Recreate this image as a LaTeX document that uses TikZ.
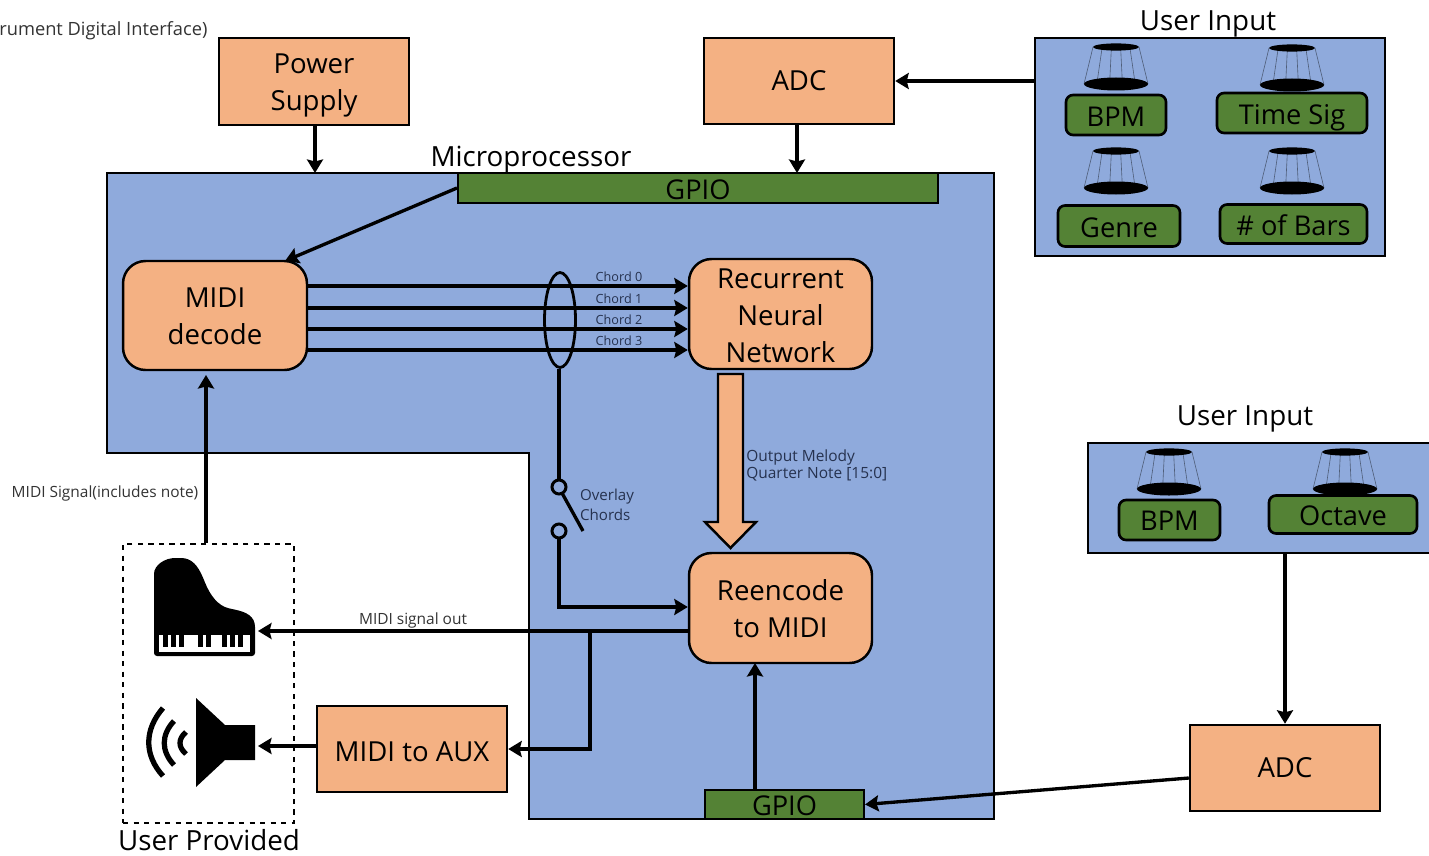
\documentclass[tikz,border=0pt]{standalone}
\usepackage{fontspec}
\setmainfont{Open Sans}
\usetikzlibrary{arrows.meta,shapes.geometric}
\definecolor{procblue}{HTML}{8FAADC}
\definecolor{boxorange}{HTML}{F4B183}
\definecolor{gpiogreen}{HTML}{548235}
\definecolor{smalltext}{HTML}{26324F}
\tikzset{
  block/.style={draw, line width=1.4pt, fill=boxorange, inner sep=0pt, align=center,
    font=\fontsize{15.7}{21}\selectfont},
  roundblock/.style={block, rounded corners=0.45cm},
  gpio/.style={draw, line width=1.2pt, fill=gpiogreen, inner sep=0pt, text height=0.44cm, text depth=0cm,
    font=\fontsize{15.5}{18}\selectfont},
  knoblabel/.style={draw, line width=1.5pt, fill=gpiogreen, rounded corners=0.14cm, inner sep=0pt,
    text height=0.48cm, text depth=0cm, font=\fontsize{15.5}{19}\selectfont},
  panel/.style={draw, line width=1.2pt, fill=procblue, inner sep=0pt},
  conn/.style={line width=1.9pt, -{Stealth[length=0.27cm,width=0.32cm,inset=0.04cm]}},
  wire/.style={line width=1.9pt},
  title/.style={font=\fontsize{15.8}{19}\selectfont},
  tiny/.style={font=\fontsize{7.2}{10}\selectfont, text=smalltext},
  note/.style={font=\fontsize{8.8}{10}\selectfont, text=smalltext, align=left},
  plain/.style={font=\fontsize{8.8}{10}\selectfont, text=black!80},
  knob/.pic={
    \foreach \d in {-1,-0.6,-0.2,0.2,0.6,1}
      \draw[line width=0.35pt, black!45!procblue] (23*\d,0) -- (32*\d,37);
    \fill (0,0) ellipse [x radius=23, y radius=3.6];
    \fill (0,37) ellipse [x radius=32, y radius=6.5];
  },
}

\begin{document}
\begin{tikzpicture}[x=0.02cm, y=-0.02cm]
  \useasboundingbox (0,0) rectangle (1429,855);

  % microprocessor area
  \draw[line width=1.2pt, fill=procblue] (107,173) -- (994,173) -- (994,819) -- (529,819)
    -- (529,453) -- (107,453) -- cycle;
  \coordinate (proctopa) at (315,173);
  \coordinate (proctopb) at (797,173);
  \node[title] (microlabel) at (531,160) {Microprocessor};
  \node[font=\fontsize{10.4}{12}\selectfont, anchor=west, inner sep=0pt, text=black!80] (cutlabel) at (-1,31) {rument Digital Interface)};

  \node[block, minimum width=3.8cm, minimum height=1.74cm] (power) at (314,81.5)
    {\rule{0pt}{0.56cm}Power\\Supply};
  \node[block, minimum width=3.8cm, minimum height=1.72cm] (adctop) at (799,81) {ADC};
  \node[gpio, minimum width=9.6cm, minimum height=0.6cm] (gpiotop) at (698,188) {GPIO};
  \node[roundblock, minimum width=3.68cm, minimum height=2.18cm] (decode) at (215,315.5) {\rule{0pt}{0.44cm}MIDI\\decode};
  \node[roundblock, minimum width=3.66cm, minimum height=2.2cm] (rnn) at (780.5,314) {\rule{0pt}{0.46cm}Recurrent\\Neural\\Network};
  \node[roundblock, minimum width=3.66cm, minimum height=2.2cm] (reencode) at (780.5,608) {\rule{0pt}{0.44cm}Reencode\\to MIDI};
  \node[block, minimum width=3.8cm, minimum height=1.72cm, text height=0.48cm, text depth=0cm] (aux) at (412,749) {MIDI to AUX};
  \node[block, minimum width=3.8cm, minimum height=1.72cm] (adcbot) at (1285,768) {ADC};
  \node[gpio, minimum width=3.18cm, minimum height=0.58cm] (gpiobot) at (784.5,804.5) {GPIO};

  % user inputs
  \node[title] (inputlabela) at (1208,24) {User Input};
  \node[panel, minimum width=7cm, minimum height=4.36cm] (inputa) at (1210,147) {};
  \node[title] (inputlabelb) at (1245,419) {User Input};
  \node[panel, minimum width=7.2cm, minimum height=2.2cm] (inputb) at (1268,498) {};
  \foreach \x/\y in {1116/47,1292/48,1116/151,1292/151,1169/452,1345/452}
    \pic at (\x,\y) {knob};
  \node[knoblabel, minimum width=2cm, minimum height=0.8cm] (bpma) at (1116,115) {BPM};
  \node[knoblabel, minimum width=3cm, minimum height=0.8cm] (timesig) at (1292,113) {Time Sig};
  \node[knoblabel, minimum width=2.44cm, minimum height=0.82cm] (genre) at (1119,226) {Genre};
  \node[knoblabel, minimum width=2.94cm, minimum height=0.78cm] (bars) at (1293.5,224) {\# of Bars};
  \node[knoblabel, minimum width=2.02cm, minimum height=0.8cm, text height=0.42cm] (bpmb) at (1169.5,520) {BPM};
  \node[knoblabel, minimum width=2.96cm, minimum height=0.76cm, text height=0.42cm] (octave) at (1343,514.5) {Octave};

  % user provided
  \node[draw, dashed, line width=1.3pt, minimum width=3.42cm, minimum height=5.58cm] (provided) at (208.5,683.5) {};
  \node[title] (providedlabel) at (209,840) {User Provided};
  \fill[rounded corners=0.06cm] (154,656) -- (154,577) .. controls (154,565) and (165,558) .. (178,558)
    .. controls (192,558) and (198,566) .. (204,580) .. controls (210,595) and (218,606) .. (232,609)
    .. controls (246,612) and (255,616) .. (255,630) -- (255,656) -- cycle;
  \fill[white] (159,635) rectangle (250,652);
  \foreach \x in {165,173,181,200,208,224,232,240}
    \fill (\x-2.5,635) rectangle (\x+2.5,647);
  \fill (196,698) -- (225,725) -- (255,725) -- (255,760) -- (225,760) -- (196,787) -- cycle;
  \draw[line width=3pt] (163,708) .. controls (144,730) and (144,755) .. (163,776);
  \draw[line width=3pt] (174,721) .. controls (161,735) and (161,751) .. (174,765);
  \draw[line width=3pt] (186,732) .. controls (178,739) and (178,747) .. (186,754);
  \coordinate (pianoin) at (258,631);
  \coordinate (speakerin) at (258,746);

  % connectors
  \draw[conn] (proctopa |- power.south) -- (proctopa);
  \draw[conn] (adctop.south -| proctopb) -- (proctopb);
  \draw[conn] (inputa.west |- adctop.east) -- (adctop.east);
  \draw[conn] (gpiotop.west) -- (285,261);
  \foreach \i/\y in {0/286,1/308,2/329,3/350} {
    \draw[conn] (decode.east |- 0,\y) -- (rnn.west |- 0,\y);
    \node[tiny] (chord\i) at (619,\y-9.5) {Chord \i};
  }
  \node[draw, line width=1.6pt, ellipse, minimum width=0.62cm, minimum height=1.9cm, inner sep=0pt] (bundle) at (560,320) {};
  \node[draw, circle, line width=1.7pt, fill=procblue, minimum size=0.28cm, inner sep=0pt] (swa) at (559,487) {};
  \node[draw, circle, line width=1.7pt, fill=procblue, minimum size=0.28cm, inner sep=0pt] (swb) at (559,531) {};
  \coordinate (swarm) at (583,531);
  \coordinate (reencin) at (559,607);
  \draw[wire] (bundle.south -| swa) -- (swa.north);
  \draw[wire] (swa) ++(3,6) -- (swarm);
  \draw[conn] (swb.south) -- (reencin) -- (reencode.west |- reencin);
  \node[note, font=\fontsize{8.6}{11.3}\selectfont] (overlay) at (607,505) {Overlay\\Chords};

  \draw[line width=1.4pt, fill=boxorange] (718,374) -- (743,374) -- (743,522) -- (756,522)
    -- (730.5,548) -- (705,522) -- (718,522) -- cycle;
  \node[note, anchor=west, inner sep=0pt] (melody) at (746,465.5) {Output Melody\\Quarter Note [15:0]};

  \coordinate (auxbranch) at (590,631);
  \draw[conn] (reencode.west |- pianoin) -- (pianoin);
  \node[plain] (sigout) at (413,620) {MIDI signal out};
  \draw[conn] (auxbranch) -- (auxbranch |- aux.east) -- (aux.east);
  \draw[conn] (aux.west |- speakerin) -- (speakerin);
  \draw[conn] (gpiobot.north -| 755,0) -- (755,663);
  \draw[conn] (adcbot.west |- 0,778) -- (gpiobot.east);
  \draw[conn] (1285,553) -- (adcbot.north);
  \draw[conn] (provided.north -| 206,0) -- (206,375);
  \node[plain] (siglabel) at (105,493) {MIDI Signal(includes note)};
\end{tikzpicture}
\end{document}
